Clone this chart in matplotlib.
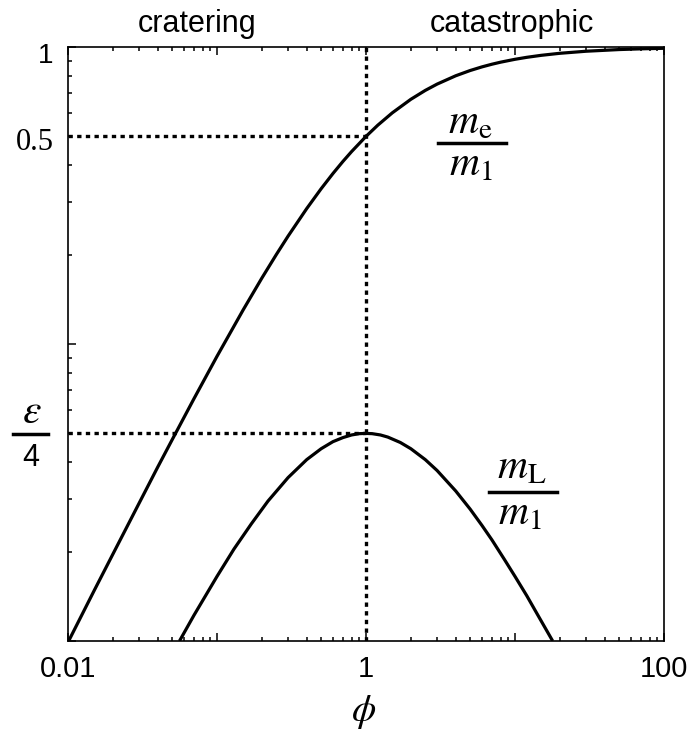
import matplotlib
matplotlib.use("Agg")
import matplotlib.pyplot as plt
from matplotlib.ticker import FixedLocator, LogLocator, NullFormatter

plt.rcParams['mathtext.fontset'] = 'stix'
plt.rcParams['font.family'] = 'Liberation Sans'

# escaping mass fraction m_e/m_1
phi_e = [0.01, 0.015, 0.02, 0.03, 0.04, 0.05, 0.07, 0.1, 0.15, 0.2, 0.25, 0.3,
         0.4, 0.5, 0.6, 0.7, 0.8, 1, 1.2, 1.5, 2, 2.5, 3, 4, 5, 6, 7, 8, 10,
         12, 15, 20, 30, 50, 70, 100]
me_m1 = [0.0099, 0.0148, 0.0196, 0.0291, 0.0385, 0.0476, 0.0654, 0.0909,
         0.1304, 0.1667, 0.2, 0.2308, 0.2857, 0.3333, 0.375, 0.4118, 0.4444,
         0.5, 0.5455, 0.6, 0.6667, 0.7143, 0.75, 0.8, 0.8333, 0.8571, 0.875,
         0.8889, 0.9091, 0.9231, 0.9375, 0.9524, 0.9677, 0.9804, 0.9859, 0.9901]

# largest remnant fraction m_L/m_1
phi_L = [0.056, 0.07, 0.1, 0.13, 0.17, 0.22, 0.3, 0.4, 0.5, 0.6, 0.7, 0.8,
         0.9, 1, 1.1, 1.25, 1.4, 1.7, 2, 2.5, 3, 4, 5, 6, 7, 8.5, 10, 12, 14,
         17.9]
mL_m1 = [0.0100, 0.0122, 0.0165, 0.0204, 0.0248, 0.0296, 0.0355, 0.0408,
         0.0444, 0.0469, 0.0484, 0.0494, 0.0499, 0.05, 0.0499, 0.0494, 0.0486,
         0.0466, 0.0444, 0.0408, 0.0375, 0.032, 0.0278, 0.0245, 0.0219,
         0.0188, 0.0165, 0.0142, 0.0124, 0.0100]

eps_over_4 = 0.05
x_ticks = [0.01, 0.1, 1, 10, 100]
x_ticklabels = ['0.01', '', '1', '', '100']

W, H = 687, 733
fig = plt.figure(figsize=(W / 100, H / 100), dpi=100)
ax = fig.add_axes([68 / W, 1 - 641 / H, (664 - 68) / W, (641 - 47) / H])


def px(x, y):
    return x / W, 1 - y / H


ax.plot(phi_e, me_m1, color='black', lw=2.3, solid_capstyle='butt')
ax.plot(phi_L, mL_m1, color='black', lw=2.3, solid_capstyle='butt')

dots = dict(color='black', lw=2.4, linestyle=(0, (1.3, 1.3)))
ax.plot([0.01, 1], [0.5, 0.5], **dots)
ax.plot([0.01, 1], [eps_over_4, eps_over_4], **dots)
ax.plot([1, 1], [0.01, 1], **dots)

ax.set_xscale('log')
ax.set_yscale('log')
ax.set_xlim(0.01, 100)
ax.set_ylim(0.01, 1)

ax.xaxis.set_major_locator(FixedLocator(x_ticks))
ax.set_xticklabels(x_ticklabels)
ax.xaxis.set_minor_locator(LogLocator(base=10, subs=range(2, 10)))
ax.xaxis.set_minor_formatter(NullFormatter())
ax.yaxis.set_major_locator(FixedLocator([0.01, 0.1, 1]))
ax.yaxis.set_minor_locator(LogLocator(base=10, subs=range(2, 10)))
ax.yaxis.set_major_formatter(NullFormatter())
ax.yaxis.set_minor_formatter(NullFormatter())

ax.tick_params(axis='x', which='both', direction='in', top=True, bottom=True,
               labelsize=21, pad=10, width=1.1)
ax.tick_params(axis='y', which='both', direction='in', left=True, right=False,
               width=1.1)
ax.tick_params(which='major', length=6)
ax.tick_params(which='minor', length=3)
for s in ax.spines.values():
    s.set_linewidth(1.2)

# y labels
fig.text(*px(53, 63), '1', ha='right', va='baseline', fontsize=20)
fig.text(*px(54, 150), '0.5', ha='right', va='baseline', fontsize=22,
         family='Liberation Serif')
fig.text(*px(32, 423), r'$\varepsilon$', ha='center', va='baseline', fontsize=30)
fig.text(*px(31, 466), '4', ha='center', va='baseline', fontsize=22)
fig.add_artist(plt.Line2D([13 / W, 48 / W], [1 - 434 / H] * 2, color='black',
                          lw=2.5, transform=fig.transFigure))

# curve labels
fig.text(*px(470, 133), r'$m_\mathrm{e}$', ha='center', va='baseline', fontsize=30)
fig.text(*px(471, 175), r'$m_1$', ha='center', va='baseline', fontsize=30)
fig.add_artist(plt.Line2D([438 / W, 506 / W], [1 - 143 / H] * 2, color='black',
                          lw=2.5, transform=fig.transFigure))
fig.text(*px(522, 478), r'$m_\mathrm{L}$', ha='center', va='baseline', fontsize=30)
fig.text(*px(520, 524), r'$m_1$', ha='center', va='baseline', fontsize=30)
fig.add_artist(plt.Line2D([489 / W, 557 / W], [1 - 492 / H] * 2, color='black',
                          lw=2.5, transform=fig.transFigure))

# regime labels and x label
fig.text(*px(197, 32), 'cratering', ha='center', va='baseline', fontsize=22)
fig.text(*px(512, 32), 'catastrophic', ha='center', va='baseline', fontsize=22)
fig.text(*px(364, 712), r'$\phi$', ha='center', va='center', fontsize=28)

fig.savefig('out.png', dpi=100)
